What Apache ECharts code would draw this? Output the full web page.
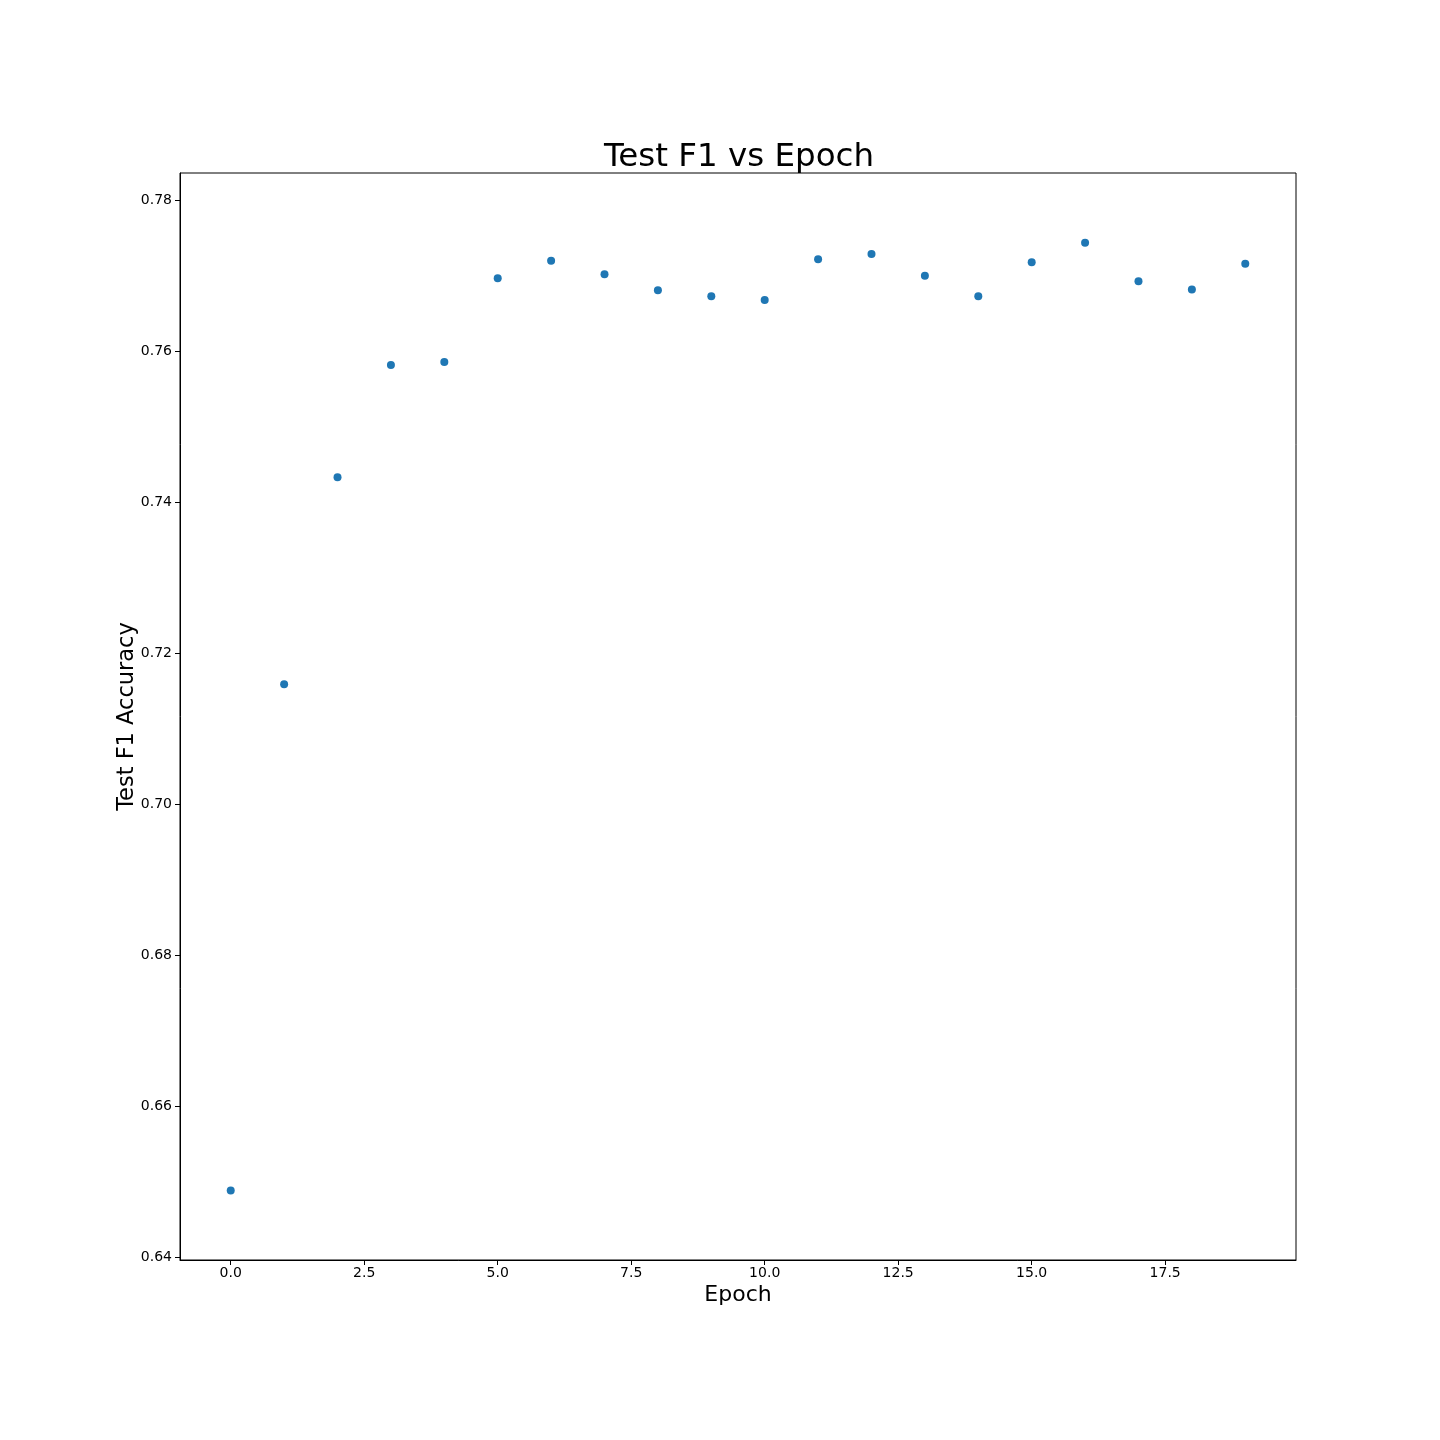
<!DOCTYPE html>
<html>
<head>
<meta charset="utf-8">
<script src="https://cdn.jsdelivr.net/npm/echarts@6/dist/echarts.min.js"></script>
<style>
html,body{margin:0;padding:0;background:#fff;}
#chart{width:1440px;height:1440px;}
</style>
</head>
<body>
<div id="chart"></div>
<script>
const epochs = [0,1,2,3,4,5,6,7,8,9,10,11,12,13,14,15,16,17,18,19];
const f1Values = [0.6488,0.7159,0.7433,0.7582,0.7586,0.7697,0.7720,0.7702,0.7681,0.7673,0.7668,0.7722,0.7729,0.7700,0.7673,0.7718,0.7744,0.7693,0.7682,0.7716];
const xTicks = [0,2.5,5,7.5,10,12.5,15,17.5];
const yTicks = [0.64,0.66,0.68,0.70,0.72,0.74,0.76,0.78];

const font = 'DejaVu Sans';
const chart = echarts.init(document.getElementById('chart'), null, {renderer:'canvas'});
chart.setOption({
  animation:false,
  backgroundColor:'#fff',
  title:{
    text:'Test F1 vs Epoch',
    left:734, top:136, textAlign:'center',
    textStyle:{fontFamily:font,fontSize:32.5,fontWeight:'normal',color:'#000'}
  },
  grid:{left:180,right:144,top:173,bottom:180,show:true,borderColor:'#000',borderWidth:1,backgroundColor:'transparent'},
  xAxis:{
    type:'value', min:-0.95, max:19.95,
    name:'Epoch', nameLocation:'middle', nameGap:24, nameMoveOverlap:false,
    nameTextStyle:{fontFamily:font,fontSize:22,color:'#000'},
    splitLine:{show:false},
    axisLine:{show:true,onZero:false,lineStyle:{color:'#000',width:1}},
    axisTick:{show:true,customValues:xTicks,length:5,lineStyle:{color:'#000'}},
    axisLabel:{customValues:xTicks,fontFamily:font,fontSize:14,color:'#000',margin:6,
      formatter:v=>Number(v).toFixed(1)}
  },
  yAxis:{
    type:'value', min:0.6396, max:0.78363,
    name:'Test F1 Accuracy', nameLocation:'middle', nameGap:41, nameMoveOverlap:false,
    nameTextStyle:{fontFamily:font,fontSize:22.5,color:'#000'},
    splitLine:{show:false},
    axisLine:{show:true,onZero:false,lineStyle:{color:'#000',width:1}},
    axisTick:{show:true,customValues:yTicks,length:5,lineStyle:{color:'#000'}},
    axisLabel:{customValues:yTicks,fontFamily:font,fontSize:14,color:'#000',margin:8,
      formatter:v=>Number(v).toFixed(2)}
  },
  series:[{
    type:'scatter',
    data:epochs.map((e,i)=>[e,f1Values[i]]),
    symbolSize:8,
    itemStyle:{color:'#1f77b4',opacity:1}
  }]
});
</script>
</body>
</html>
